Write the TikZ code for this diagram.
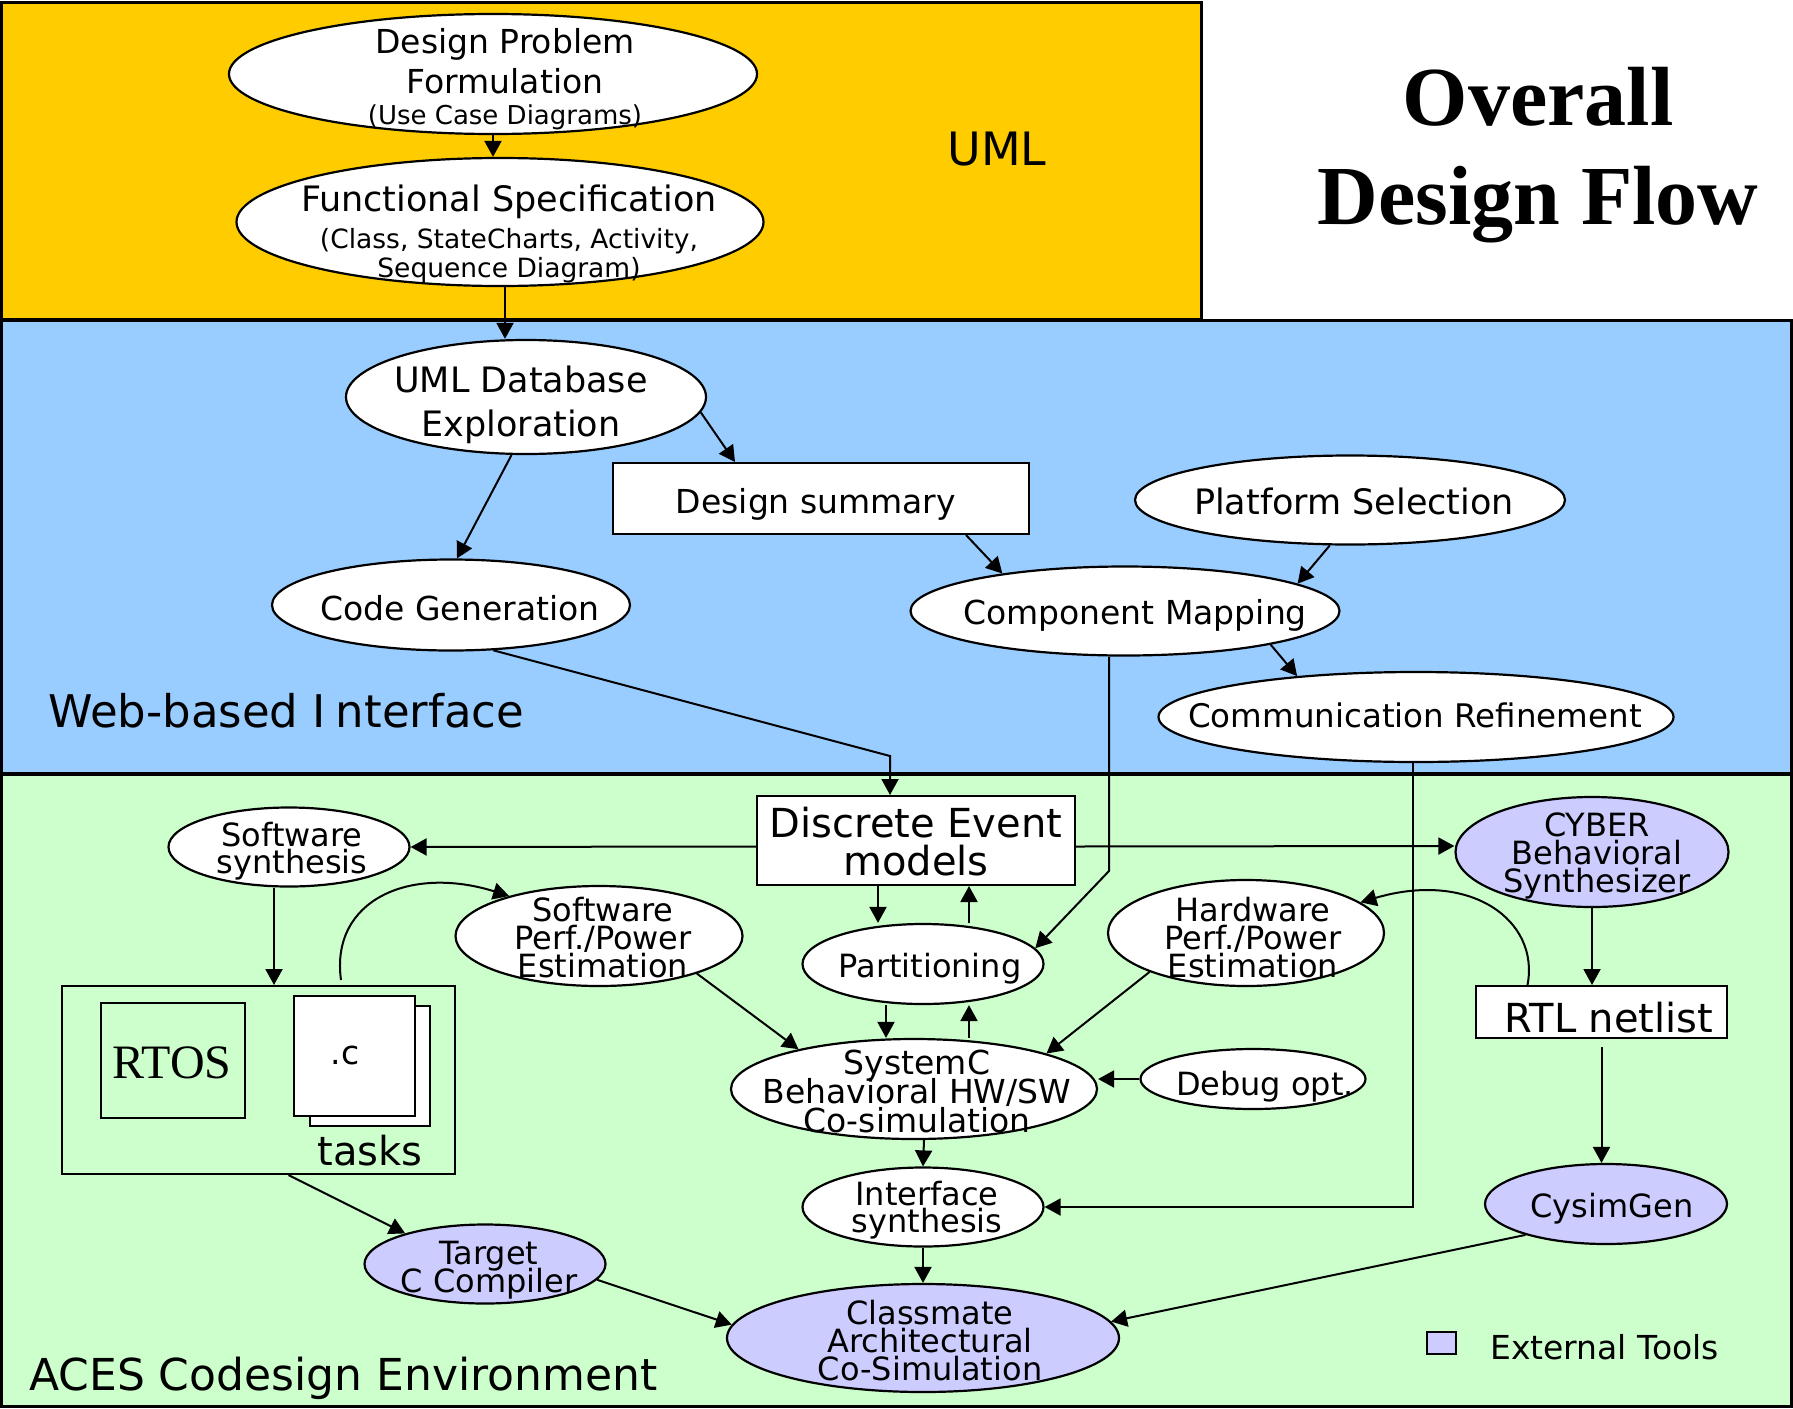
\documentclass[tikz,border=0pt]{standalone}
\usepackage{fontspec}
\setmainfont{DejaVu Sans}
\newfontfamily\serifb{Liberation Serif}
\usetikzlibrary{shapes.geometric,arrows.meta}
\newcommand\myfs[2]{\fontsize{#1}{#2}\selectfont\lineskiplimit=-200pt\lineskip=0pt}
\definecolor{uyel}{HTML}{FFCC00}
\definecolor{ublu}{HTML}{99CCFF}
\definecolor{ugrn}{HTML}{CCFFCC}
\definecolor{ulav}{HTML}{CCCCFF}
\begin{document}
\begin{tikzpicture}[x=1pt,y=-1pt,
  band/.style={draw=black, line width=3pt},
  ell/.style={ellipse, draw, line width=2.2pt, fill=white, inner sep=0pt},
  ext/.style={ell, fill=ulav},
  bx/.style={rectangle, draw, line width=2pt, inner sep=0pt},
  tx/.style={inner sep=0pt, align=center},
  arr/.style={line width=2pt, -{Triangle[length=16pt,width=17pt]}},
]
\useasboundingbox (0,0) rectangle (1793,1408);
% bands
\draw[band, fill=uyel] (1.5,2) rectangle (1201,319);
\draw[band, fill=ublu] (1.5,320) rectangle (1791,773);
\draw[band, fill=ugrn] (1.5,774) rectangle (1791,1406);

% title and band labels
\node[tx, font=\serifb\bfseries\myfs{84}{99}] (title) at (1538,155) {Overall\\Design Flow};
\node[tx, font=\myfs{46}{50}] (uml) at (997,149) {UML};
\node[tx, anchor=west, font=\myfs{45}{48}] (web) at (48,711) {Web-based I\kern10pt nterface};
\node[tx, anchor=base west, font=\myfs{44}{48}] (aces) at (29,1390) {ACES Codesign Environment};

% UML band
\node[ell, minimum width=528pt, minimum height=120pt] (dp) at (493,74) {};
\node[tx, font=\myfs{33}{40}] (dpt) at (505,79) {Design Problem\\Formulation\\[-9pt]{\myfs{26}{31}(Use Case Diagrams)}};
\node[ell, minimum width=527pt, minimum height=128pt] (fs) at (500,222) {};
\node[tx, font=\myfs{35}{37}] (fst) at (509,234) {Functional Specification\\{\myfs{26.5}{29}(Class, StateCharts, Activity,}\\[-8pt]{\myfs{26.5}{29}Sequence Diagram)}};

% Web band
\node[ell, minimum width=360pt, minimum height=114pt] (udb) at (526,397) {};
\node[tx, font=\myfs{35}{44}] (udbt) at (521,405) {UML Database\\Exploration};
\node[bx, fill=white, minimum width=416pt, minimum height=71pt] (ds) at (821,498.5) {};
\node[tx, font=\myfs{33}{38}] (dst) at (816,504) {Design summary};
\node[ell, minimum width=430pt, minimum height=89pt] (ps) at (1350,500) {};
\node[tx, font=\myfs{35}{40}] (pst) at (1354,501) {Platform Selection};
\node[ell, minimum width=358pt, minimum height=91pt] (cg) at (451,605) {};
\node[tx, font=\myfs{33}{38}] (cgt) at (460,608) {Code Generation};
\node[ell, minimum width=429pt, minimum height=89pt] (cm) at (1125,611) {};
\node[tx, font=\myfs{33}{38}] (cmt) at (1135,615) {Component Mapping};
\node[ell, minimum width=515pt, minimum height=90pt] (cr) at (1416,717) {};
\node[tx, font=\myfs{32.5}{36}] (crt) at (1415,715) {Communication Refinement};

% ACES band
\node[bx, fill=white, minimum width=318pt, minimum height=89pt] (de) at (916,840.5) {};
\node[tx, font=\myfs{40}{38}] (det) at (916,842) {Discrete Event\\models};
\node[ell, minimum width=241pt, minimum height=79pt] (ss) at (289,847) {};
\node[tx, font=\myfs{32}{27}] (sst) at (292,851) {Software\\synthesis};
\node[ext, minimum width=273pt, minimum height=110pt] (cy) at (1592,852) {};
\node[tx, font=\myfs{32}{28}] (cyt) at (1597,856) {CYBER\\Behavioral\\Synthesizer};
\node[ell, minimum width=287pt, minimum height=100pt] (sp) at (599,936) {};
\node[tx, font=\myfs{32}{28}] (spt) at (603,937.5) {Software\\Perf./Power\\Estimation};
\node[ell, minimum width=241pt, minimum height=80pt] (pa) at (923,964) {};
\node[tx, font=\myfs{32}{36}] (pat) at (930,969) {Partitioning};
\node[ell, minimum width=276pt, minimum height=106pt] (hp) at (1246,933) {};
\node[tx, font=\myfs{32}{28}] (hpt) at (1253,937.5) {Hardware\\Perf./Power\\Estimation};
\node[bx, fill=white, minimum width=251pt, minimum height=52pt] (rtl) at (1601.5,1012) {};
\node[tx, font=\myfs{40}{44}] (rtlt) at (1609,1018) {RTL netlist};
\node[ell, minimum width=366pt, minimum height=100pt] (sc) at (914,1089) {};
\node[tx, font=\myfs{33}{29}] (sct) at (917,1091.5) {SystemC\\Behavioral HW/SW\\Co-simulation};
\node[ell, minimum width=225pt, minimum height=60pt] (db) at (1253,1079) {};
\node[tx, font=\myfs{32}{36}] (dbt) at (1265,1087) {Debug opt.};
\node[ell, minimum width=241pt, minimum height=79pt] (is) at (923,1207) {};
\node[tx, font=\myfs{32}{27}] (ist) at (927,1210) {Interface\\synthesis};
\node[ext, minimum width=392pt, minimum height=108pt] (cl) at (923,1338) {};
\node[tx, font=\myfs{32}{28}] (clt) at (930,1340.5) {Classmate\\Architectural\\Co-Simulation};
\node[ext, minimum width=242pt, minimum height=80pt] (cs) at (1606,1204) {};
\node[tx, font=\myfs{32}{36}] (cst) at (1612,1209) {CysimGen};
\node[ext, minimum width=241pt, minimum height=79pt] (tc) at (485,1264) {};
\node[tx, font=\myfs{32}{28}] (tct) at (489,1270) {Target\\C Compiler};

% software box
\node[bx, minimum width=393pt, minimum height=188pt] (sw) at (258.5,1080) {};
\node[bx, minimum width=144pt, minimum height=115pt] (rtos) at (173,1060.5) {};
\node[tx, font=\serifb\myfs{48}{52}] (rtost) at (172,1063) {RTOS};
\node[bx, fill=white, minimum width=120pt, minimum height=120pt] (docb) at (370,1066) {};
\node[bx, fill=white, minimum width=121pt, minimum height=120pt] (docf) at (354.5,1056) {};
\node[tx, font=\myfs{33}{38}] (doct) at (345,1055) {.c};
\node[tx, font=\myfs{40}{44}] (tasks) at (370,1151) {tasks};

% legend
\node[bx, fill=ulav, minimum width=29pt, minimum height=22pt] (leg) at (1441.5,1343) {};
\node[tx, anchor=base west, font=\myfs{33}{38}] (legt) at (1490,1359) {External Tools};

% connectors
\draw[arr] (dp.south) -- (dp.south |- fs.north);
\draw[arr] ([xshift=5pt]fs.south) -- ([xshift=5pt]fs.south |- udb.north);
\draw[arr] (udb.-5) -- ([xshift=-86pt]ds.north);
\draw[arr] (udb.-104) -- ([xshift=6pt]cg.north);
\draw[arr] ([xshift=145pt]ds.south) -- (cm.163);
\draw[arr] (ps.-114) -- (cm.9);
\draw[arr] (cm.-13) -- (cr.161);
\coordinate (cgbend) at (890,756);
\draw[arr] (cg.-47) -- (cgbend) -- ([xshift=-26pt]de.north);
\coordinate (cmbend) at (1109,871);
\draw[arr] ([xshift=-16pt]cm.south) -- (cmbend) -- (pa.8);
\draw[arr] ([xshift=-3pt]cr.south) |- (is.east);
\draw[arr] ([yshift=-6pt]de.west) -- (ss.east);
\draw[arr] ([yshift=-6pt]de.east) -- ([yshift=6pt]cy.west);
\draw[arr] ([xshift=-38pt]de.south) -- ([xshift=-38pt]de.south |- pa.north);
\draw[arr] ([xshift=46pt]pa.north) -- ([xshift=46pt]pa.north |- de.south);
\draw[arr] ([xshift=-37pt]pa.south) -- ([xshift=-37pt]pa.south |- sc.north);
\draw[arr] ([xshift=55pt]sc.north) -- ([xshift=55pt]sc.north |- pa.south);
\draw[arr] (sp.-21) -- (sc.161);
\draw[arr] (hp.-158) -- (sc.15);
\draw[arr] (db.west) -- (sc.east |- db.west);
\draw[arr] ([xshift=10pt]sc.south) -- (is.north);
\draw[arr] (is.south) -- (cl.north);
\draw[arr] (cy.south) -- (cy.south |- rtl.north);
\draw[arr] ([yshift=-8pt]rtl.south) -- (rtl.south |- cs.north);
\draw[arr] (cs.-159) -- (cl.5);
\draw[arr] ([xshift=-15pt]ss.south) -- ([xshift=-15pt]ss.south |- sw.north);
\draw[arr] ([xshift=30pt]sw.south) -- (tc.159);
\draw[arr] (tc.-8) -- (cl.176);
\draw[arr] ([xshift=82.5pt,yshift=5pt]sw.north) .. controls (330,900) and (410,865) .. (sp.156);
\draw[arr] ([xshift=-74pt]rtl.north) .. controls (1540,920) and (1470,870) .. (hp.15);
\end{tikzpicture}
\end{document}
